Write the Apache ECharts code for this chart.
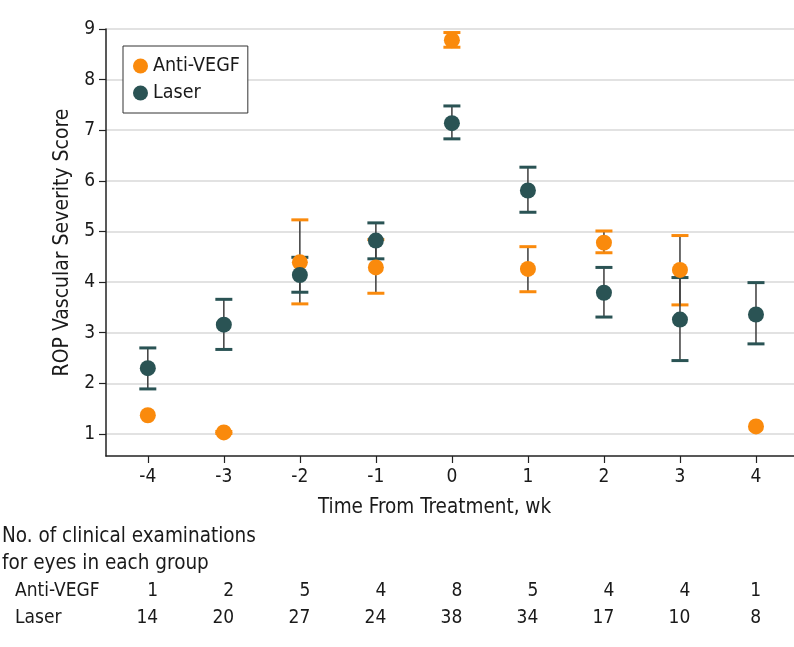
<!DOCTYPE html>
<html>
<head>
<meta charset="utf-8">
<script src="https://cdn.jsdelivr.net/npm/echarts@6/dist/echarts.min.js"></script>
<style>
  html, body { margin: 0; padding: 0; background: #ffffff; }
  #main { width: 794px; height: 647px; }
</style>
</head>
<body>
<div id="main"></div>
<script>
// ---- Data ----
const weeks = [-4, -3, -2, -1, 0, 1, 2, 3, 4];
const yTicks = [1, 2, 3, 4, 5, 6, 7, 8, 9];

const antiMean = [1.37, 1.03, 4.39, 4.29, 8.78, 4.26, 4.78, 4.24, 1.15];
const antiLow  = [null, 1.01, 3.57, 3.78, 8.64, 3.81, 4.58, 3.55, null];
const antiHigh = [null, 1.05, 5.23, 4.84, 8.93, 4.70, 5.01, 4.92, null];

const laserMean = [2.30, 3.16, 4.14, 4.82, 7.14, 5.81, 3.79, 3.26, 3.36];
const laserLow  = [1.89, 2.67, 3.80, 4.46, 6.83, 5.38, 3.31, 2.45, 2.78];
const laserHigh = [2.70, 3.66, 4.49, 5.17, 7.48, 6.27, 4.29, 4.09, 3.99];

const antiCount  = [1, 2, 5, 4, 8, 5, 4, 4, 1];
const laserCount = [14, 20, 27, 24, 38, 34, 17, 10, 8];

const seriesNames = ['Anti-VEGF', 'Laser'];
const tableTitle = ['No. of clinical examinations', 'for eyes in each group'];

// ---- Styling ----
const FONT = '"DejaVu Sans Condensed", "Liberation Sans Narrow", "Liberation Sans", Arial, sans-serif';
const ORANGE = '#FA8A0C';
const TEAL = '#2A5354';
const TEXT = '#1a1a1a';
const AXIS = '#222222';

function pointData(means) {
  return weeks.map((w, i) => [w, means[i]]);
}
function errData(lows, highs) {
  const out = [];
  weeks.forEach((w, i) => {
    if (lows[i] != null && highs[i] != null) out.push([w, lows[i], highs[i]]);
  });
  return out;
}
function errRender(color) {
  return function (params, api) {
    const x = api.value(0);
    const pLo = api.coord([x, api.value(1)]);
    const pHi = api.coord([x, api.value(2)]);
    const hw = 8.5;
    return {
      type: 'group',
      children: [
        { type: 'line', shape: { x1: pLo[0], y1: pLo[1], x2: pHi[0], y2: pHi[1] },
          style: { stroke: '#3c3c3c', lineWidth: 1.5 } },
        { type: 'line', shape: { x1: pHi[0] - hw, y1: pHi[1], x2: pHi[0] + hw, y2: pHi[1] },
          style: { stroke: color, lineWidth: 3 } },
        { type: 'line', shape: { x1: pLo[0] - hw, y1: pLo[1], x2: pLo[0] + hw, y2: pLo[1] },
          style: { stroke: color, lineWidth: 3 } }
      ]
    };
  };
}

const chart = echarts.init(document.getElementById('main'), null, { renderer: 'canvas' });

const option = {
  animation: false,
  backgroundColor: '#ffffff',
  textStyle: { fontFamily: FONT, color: TEXT },
  grid: { left: 106, right: 0, top: 29, bottom: 191, containLabel: false },
  legend: {
    data: seriesNames,
    orient: 'vertical',
    left: 123,
    top: 46,
    icon: 'circle',
    itemWidth: 15,
    itemHeight: 15,
    itemGap: 7,
    padding: [10, 8, 10, 10],
    borderColor: '#333333',
    borderWidth: 1,
    backgroundColor: '#ffffff',
    textStyle: { fontFamily: FONT, fontSize: 19.5, color: TEXT, lineHeight: 20 }
  },
  xAxis: {
    type: 'value',
    min: -4.55,
    max: 4.5,
    name: 'Time From Treatment, wk',
    nameLocation: 'middle',
    nameGap: 41,
    nameTextStyle: { fontFamily: FONT, fontSize: 20.5, color: TEXT, padding: [0, 31, 0, 0] },
    axisLine: { show: true, onZero: false, lineStyle: { color: AXIS, width: 1.5 } },
    axisTick: { show: true, length: 7, lineStyle: { color: AXIS, width: 1.2 }, customValues: weeks },
    axisLabel: { fontFamily: FONT, fontSize: 19, color: TEXT, margin: 12, customValues: weeks },
    splitLine: { show: false }
  },
  yAxis: {
    type: 'value',
    min: 0.565,
    max: 9,
    splitNumber: 8,
    name: 'ROP Vascular Severity Score',
    nameLocation: 'middle',
    nameGap: 33,
    nameTextStyle: { fontFamily: FONT, fontSize: 21, color: TEXT },
    axisLine: { show: true, onZero: false, lineStyle: { color: AXIS, width: 1.5 } },
    axisTick: { show: true, length: 7, lineStyle: { color: AXIS, width: 1.2 }, customValues: yTicks },
    axisLabel: { fontFamily: FONT, fontSize: 19, color: TEXT, margin: 11, customValues: yTicks },
    splitLine: { show: true, lineStyle: { color: '#d9d9d9', width: 1.5 } }
  },
  series: [
    { name: 'Anti-VEGF CI', type: 'custom', renderItem: errRender(ORANGE),
      data: errData(antiLow, antiHigh), encode: { x: 0, y: [1, 2] }, silent: true },
    { name: 'Anti-VEGF', type: 'scatter', symbol: 'circle', symbolSize: 16,
      itemStyle: { color: ORANGE, opacity: 1 }, data: pointData(antiMean), silent: true },
    { name: 'Laser CI', type: 'custom', renderItem: errRender(TEAL),
      data: errData(laserLow, laserHigh), encode: { x: 0, y: [1, 2] }, silent: true },
    { name: 'Laser', type: 'scatter', symbol: 'circle', symbolSize: 16,
      itemStyle: { color: TEAL, opacity: 1 }, data: pointData(laserMean), silent: true }
  ]
};

chart.setOption(option);

// ---- Table of counts under the x axis, aligned with the axis ticks ----
function txt(s, x, y, align, size) {
  return { type: 'text', x: x, y: y, silent: true,
    style: { text: s, fill: TEXT, fontFamily: FONT, fontSize: size, align: align, verticalAlign: 'middle' } };
}
const g = [];
g.push(txt(tableTitle[0], 2, 537, 'left', 20.5));
g.push(txt(tableTitle[1], 2, 564, 'left', 20.5));
g.push(txt(seriesNames[0], 15, 591, 'left', 19));
g.push(txt(seriesNames[1], 15, 618, 'left', 19));
weeks.forEach((w, i) => {
  const px = chart.convertToPixel({ xAxisIndex: 0 }, w);
  const maxLen = Math.max(String(antiCount[i]).length, String(laserCount[i]).length);
  const right = px + maxLen * 5.2;
  g.push(txt(String(antiCount[i]), right, 591, 'right', 19));
  g.push(txt(String(laserCount[i]), right, 618, 'right', 19));
});
chart.setOption({ graphic: g });
</script>
</body>
</html>
